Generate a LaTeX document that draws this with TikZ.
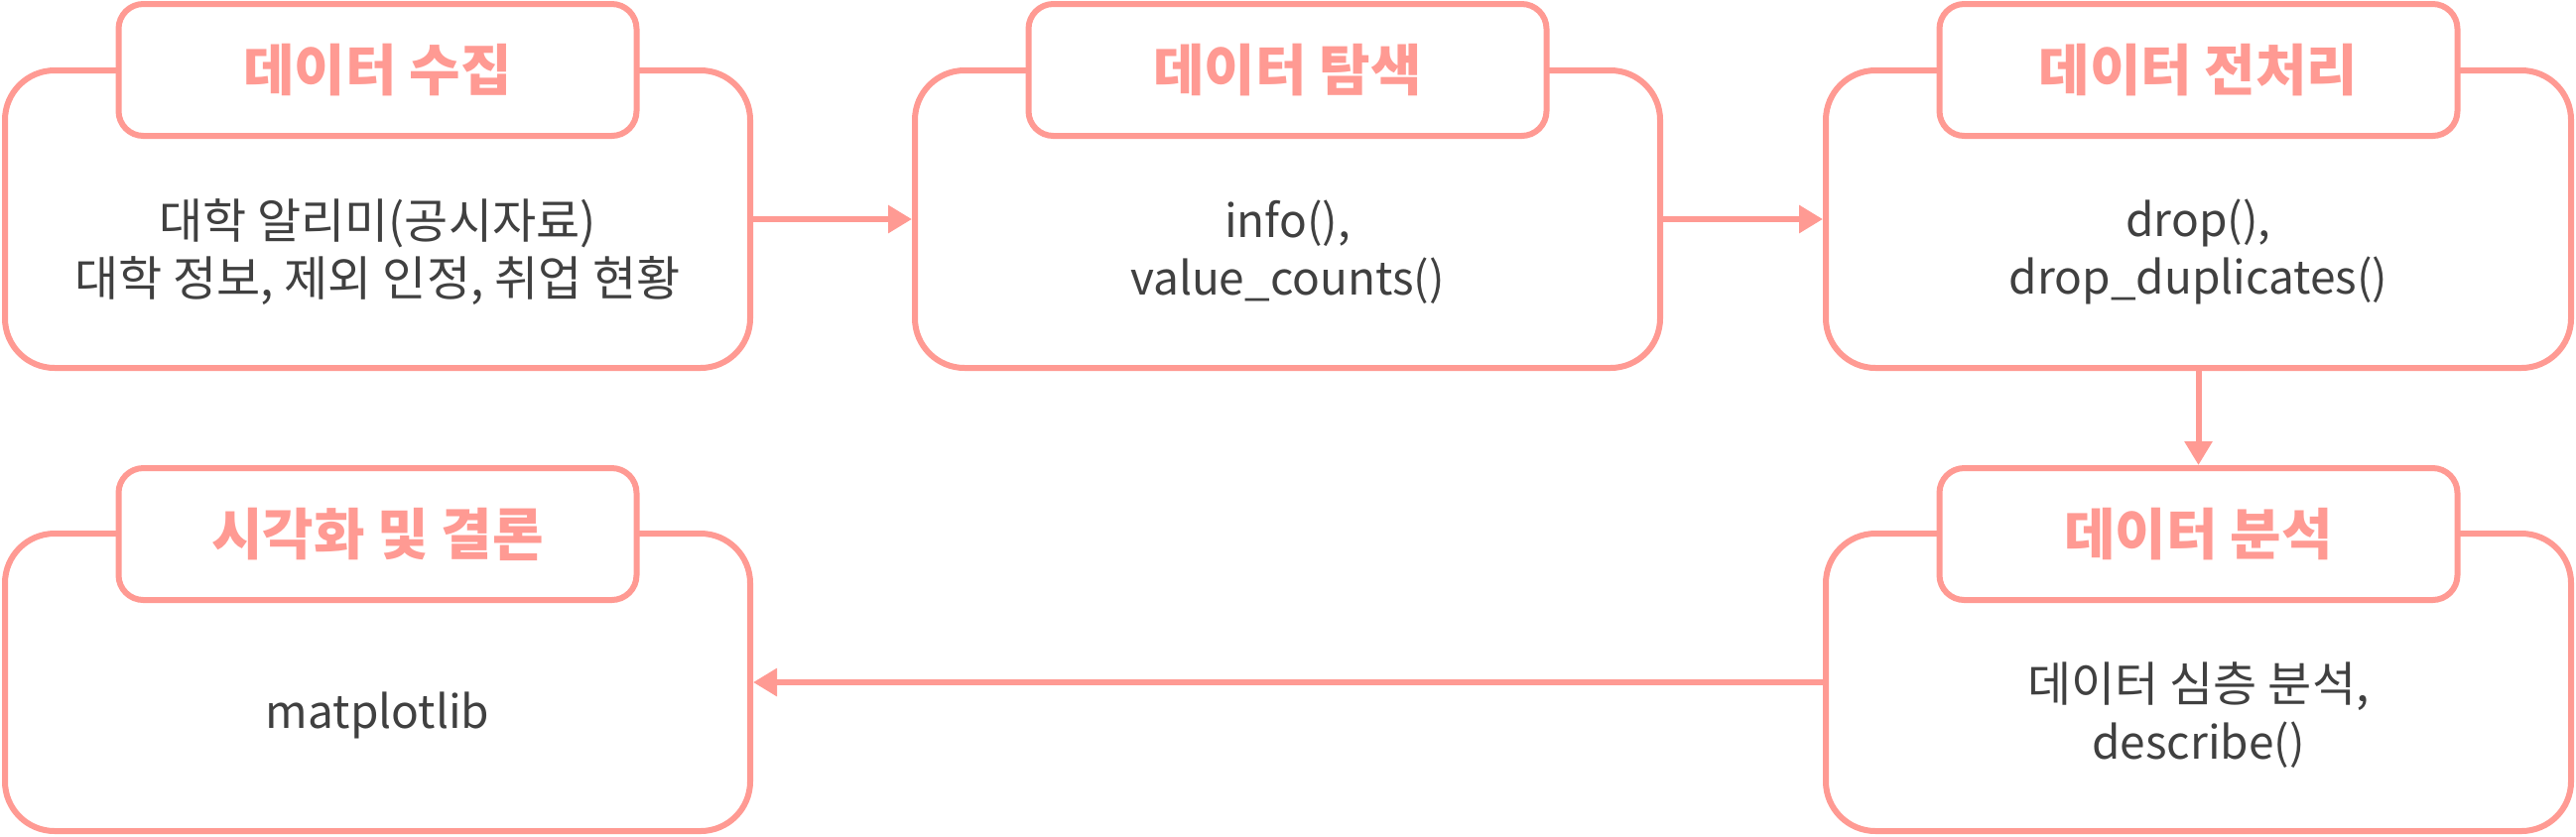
\documentclass[tikz,border=0pt]{standalone}
\usepackage{fontspec}
\setmainfont{Noto Sans CJK KR}
\usetikzlibrary{arrows.meta}
\definecolor{salmon}{RGB}{255,154,147}
\definecolor{ink}{RGB}{64,64,64}
\begin{document}
\begin{tikzpicture}[x=0.5pt,y=-0.5pt,
  bigbox/.style={draw=salmon, line width=3pt, rounded corners=25pt,
    minimum width=375.5pt, minimum height=150pt, fill=white, inner sep=0pt},
  titlebox/.style={draw=salmon, line width=3pt, rounded corners=12.5pt,
    minimum width=261pt, minimum height=66.5pt, fill=white, inner sep=0pt,
    font=\bfseries\fontsize{28}{34}\selectfont, text=salmon},
  bodytext/.style={font=\fontsize{24}{29}\selectfont, text=ink, align=center},
  bodylatin/.style={bodytext, font=\fontsize{23}{29}\selectfont},
  flow/.style={draw=salmon, line width=3pt, -{Triangle[length=12pt,width=13.5pt]}}]
\useasboundingbox (0,0) rectangle (2596,843);
% row 1
\node[bigbox] (b1) at (380.5,221) {};
\node[titlebox] (t1) at (380.5,70.5) {데이터 수집};
\node[bodytext] (x1) at (380.5,254) {대학 알리미(공시자료)\\대학 정보, 제외 인정, 취업 현황};
\node[bigbox] (b2) at (1297.5,221) {};
\node[titlebox] (t2) at (1297.5,70.5) {데이터 탐색};
\node[bodylatin] (x2) at (1297.5,254) {info(),\\value\_counts()};
\node[bigbox] (b3) at (2215.5,221) {};
\node[titlebox] (t3) at (2215.5,70.5) {데이터 전처리};
\node[bodylatin] (x3) at (2215.5,254) {drop(),\\drop\_duplicates()};
% row 2
\node[bigbox] (b5) at (2215.5,688) {};
\node[titlebox] (t5) at (2215.5,538.5) {데이터 분석};
\node[bodytext] (x5) at (2215.5,721) {데이터 심층 분석,\\{\fontsize{23}{29}\selectfont describe()}};
\node[bigbox] (b4) at (380.5,688) {};
\node[titlebox] (t4) at (380.5,538.5) {시각화 및 결론};
\node[bodylatin] (x4) at (380.5,721) {matplotlib};
% connectors
\draw[flow] (b1.east) -- (b2.west);
\draw[flow] (b2.east) -- (b3.west);
\draw[flow] (b3.south) -- (t5.north);
\draw[flow] (b5.west) -- (b4.east);
\end{tikzpicture}
\end{document}
